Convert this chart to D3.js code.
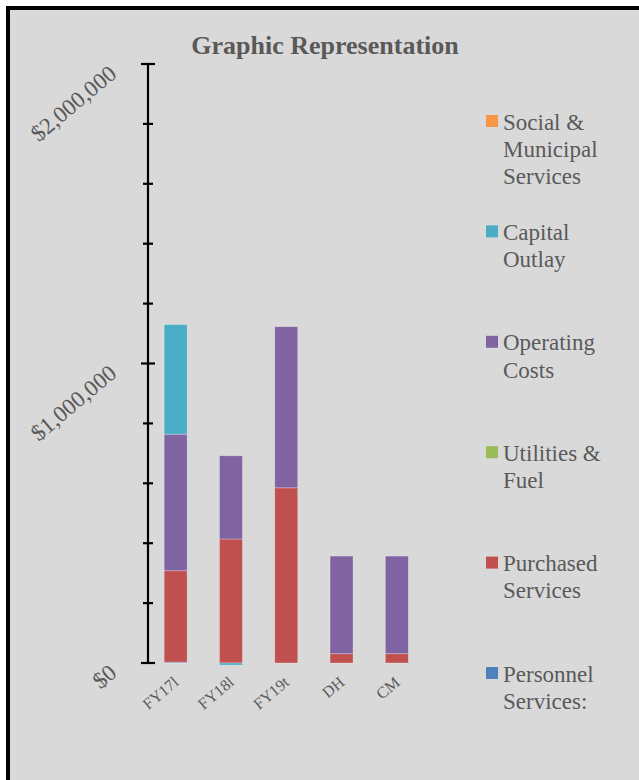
<!DOCTYPE html>
<html>
<head>
<meta charset="utf-8">
<script src="https://cdn.jsdelivr.net/npm/d3@7"></script>
<style>
  html, body { margin: 0; padding: 0; background: #ffffff; }
  svg { display: block; }
  text { font-family: "Liberation Serif", "Times New Roman", serif; fill: #595959; }
</style>
</head>
<body>
<svg id="chart" width="639" height="780"></svg>
<script>
// ---- data ----
const categories = ["FY17l", "FY18l", "FY19t", "DH", "CM"];
const seriesNames = ["Personnel Services:", "Purchased Services", "Utilities & Fuel", "Operating Costs", "Capital Outlay", "Social & Municipal Services"];
const personnel = [3000, 0, 0, 0, 0];
const purchased = [305000, 414000, 585000, 31000, 31000];
const utilities = [0, 0, 0, 0, 0];
const operating = [456000, 278000, 538000, 326000, 326000];
const capital   = [366000, -7000, 0, 0, 0];
const social    = [0, 0, 0, 0, 0];
const seriesColors = ["#4F81BD", "#C0504D", "#9BBB59", "#8064A2", "#4BACC6", "#F79646"];
const yTickValues = [0, 200000, 400000, 600000, 800000, 1000000, 1200000, 1400000, 1600000, 1800000, 2000000];
const yLabelValues = [0, 1000000, 2000000];
const legendLines = [["Social &", "Municipal", "Services"], ["Capital", "Outlay"], ["Operating", "Costs"], ["Utilities &", "Fuel"], ["Purchased", "Services"], ["Personnel", "Services:"]];
const title = "Graphic Representation";

const seriesValues = [personnel, purchased, utilities, operating, capital, social];
const table = categories.map((c, i) => {
  const row = { cat: c };
  seriesNames.forEach((s, k) => row[s] = seriesValues[k][i]);
  return row;
});

const svg = d3.select("#chart");

// frame
svg.append("rect").attr("x", 8).attr("y", 8).attr("width", 720).attr("height", 820)
  .attr("fill", "#d9d9d9").attr("stroke", "#000").attr("stroke-width", 4);

// title
svg.append("text").attr("x", 325).attr("y", 54).attr("text-anchor", "middle")
  .attr("font-size", 26).attr("font-weight", "bold").text(title);

const axisX = 148;
const y = d3.scaleLinear().domain([0, 2000000]).range([663, 64]);
const x = d3.scaleBand().domain(categories).range([axisX, 424.5])
  .paddingInner(0.584).paddingOuter(0.292);

const stack = d3.stack().keys(seriesNames).offset(d3.stackOffsetDiverging);
const stacked = stack(table);

svg.append("g").selectAll("g").data(stacked).join("g")
  .attr("fill", (d, i) => seriesColors[i])
  .selectAll("rect").data(d => d.filter(p => p[1] !== p[0])).join("rect")
  .attr("x", d => x(d.data.cat))
  .attr("width", x.bandwidth())
  .attr("y", d => y(Math.max(d[0], d[1])))
  .attr("height", d => Math.abs(y(d[0]) - y(d[1])))
  .attr("stroke", "rgba(255,255,255,0.35)").attr("stroke-width", 0.8);

// y axis
const yAxisG = svg.append("g").attr("transform", `translate(${axisX},0)`);
yAxisG.append("line").attr("x1", 0).attr("x2", 0).attr("y1", y(2000000)).attr("y2", y(0))
  .attr("stroke", "#000").attr("stroke-width", 2.2);
yAxisG.selectAll("line.tick").data(yTickValues).join("line").attr("class", "tick")
  .attr("x1", d => yLabelValues.includes(d) ? -7 : -5)
  .attr("x2", d => yLabelValues.includes(d) ? 7 : 5)
  .attr("y1", d => y(d)).attr("y2", d => y(d))
  .attr("stroke", "#000").attr("stroke-width", 2.2);

const fmt = d3.format("$,.0f");
svg.append("g").selectAll("text").data(yLabelValues).join("text")
  .attr("text-anchor", "end").attr("font-size", 23)
  .attr("transform", d => `translate(${axisX - 30},${y(d) + 12}) rotate(-40)`)
  .text(d => fmt(d));

// x labels
svg.append("g").selectAll("text").data(categories).join("text")
  .attr("text-anchor", "end").attr("font-size", 16)
  .attr("transform", d => `translate(${x(d) + x.bandwidth() / 2 + 4},${684}) rotate(-40)`)
  .text(d => d);

// legend
const legendColors = seriesColors.slice().reverse();
const lg = svg.append("g").selectAll("g").data(legendLines).join("g")
  .attr("transform", (d, i) => `translate(486,${115 + i * 110.4})`);
lg.append("rect").attr("x", 0).attr("y", 0).attr("width", 12).attr("height", 12)
  .attr("fill", (d, i) => legendColors[i]);
lg.append("text").attr("x", 17).attr("y", 14.5).attr("font-size", 23)
  .selectAll("tspan").data(d => d).join("tspan")
  .attr("x", 17).attr("dy", (d, i) => i === 0 ? 0 : 27.3).text(d => d);
</script>
</body>
</html>
